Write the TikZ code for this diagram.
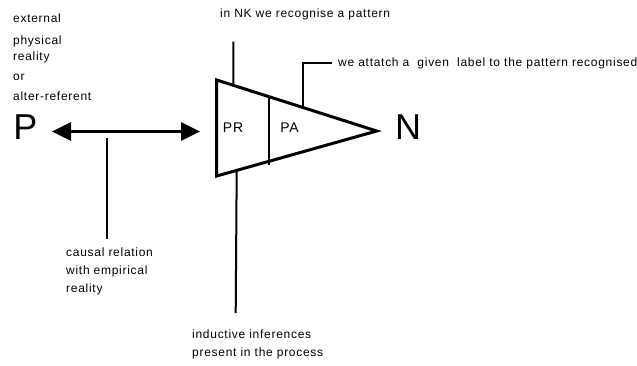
\documentclass[tikz,border=0pt]{standalone}
\usepackage{fontspec}
\setmainfont{Liberation Sans}
\newfontfamily\lblfont[LetterSpace=6]{Liberation Sans}
\usetikzlibrary{arrows.meta,calc}
\tikzset{
  txt/.style={anchor=base west,inner sep=0pt,align=left,font=\lblfont\fontsize{12bp}{18bp}\selectfont},
  big/.style={inner sep=0pt,font=\fontsize{36bp}{36bp}\selectfont},
  part/.style={inner sep=0pt,font=\lblfont\fontsize{14bp}{14bp}\selectfont},
  conn/.style={line width=2bp},
}
\begin{document}
\begin{tikzpicture}[x=1bp,y=-1bp,>={Triangle[length=19bp,width=18bp]}]
\useasboundingbox (0,0) rectangle (637,365);
% left column (base = last line)
\node[txt] (ext) at (13,22.5) {external};
\node[txt,font=\lblfont\fontsize{12bp}{16bp}\selectfont] (phys) at (13,60) {physical\\reality};
\node[txt] (or) at (13,80) {or};
\node[txt] (alt) at (13,100) {alter-referent};
\node[big] (P) at (25.5,127.5) {P};
\node[big] (N) at (408,127) {N};
% triangle
\coordinate (tl) at (216.7,80);
\coordinate (bl) at (216.7,176);
\coordinate (tip) at (376.7,131);
\draw[line width=3bp,line join=miter] (tl)--(tip)--(bl)--cycle;
\draw[conn] ($(tl)!.327!(tip)$)--($(bl)!.327!(tip)+(0,4)$);
\node[part] (PR) at (233,128) {PR};
\node[part] (PA) at (289.5,128) {PA};
% arrow P <-> PR
\coordinate (aL) at (52,131.5);
\coordinate (aR) at (200,131.5);
\draw[<->,line width=3bp] (aL)--(aR);
% labels and their lines
\node[txt] (nk) at (220,17.3) {in NK we recognise a pattern};
\coordinate (nkE) at (233.3,41.7);
\draw[conn] (nkE)--($(tl)!.104!(tip)$);
\node[txt] (lab) at (338,66) {we attatch a\ \ given\ \ label to the pattern recognised};
\coordinate (labE) at (331.7,62.7);
\draw[conn] (labE)-|($(tl)!.541!(tip)$);
\node[txt] (cau) at (66,292.7) {causal relation\\with empirical\\reality};
\coordinate (cT) at (107.3,138);
\coordinate (cB) at (107.3,239);
\draw[conn] (cT)--(cB);
\node[txt] (ind) at (192,356.7) {inductive inferences\\present in the process};
\coordinate (iB) at (235.7,313);
\draw[conn] ($(bl)!.125!(tip)$)--(iB);
\end{tikzpicture}
\end{document}
